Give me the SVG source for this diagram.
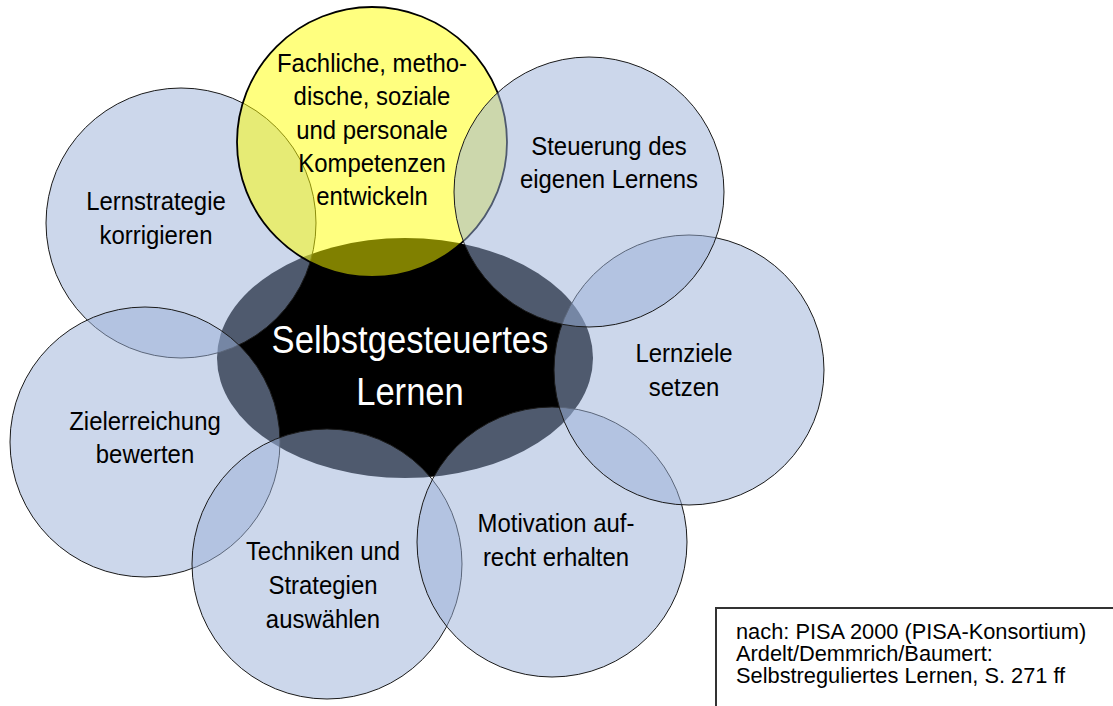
<svg xmlns="http://www.w3.org/2000/svg" width="1113" height="706" viewBox="0 0 1113 706">
<style>
.c{fill:#9BB0D8;fill-opacity:0.51;stroke:#1a1a1a;stroke-width:1}
.y{fill:#FFFF00;fill-opacity:0.5;stroke:#000;stroke-width:1.8}
.t{font-family:"Liberation Sans",Arial,sans-serif;font-size:26px;fill:#000;text-anchor:middle}
.m{font-family:"Liberation Sans",Arial,sans-serif;font-size:38px;fill:#fff;text-anchor:middle}
.r{font-family:"Liberation Sans",Arial,sans-serif;font-size:21.8px;fill:#000}
</style>
<rect width="1113" height="706" fill="#fff"/>
<g id="center">
<ellipse cx="405" cy="358" rx="188" ry="120" fill="#000"/>
<text class="m" transform="translate(410 0) scale(0.91 1)"><tspan x="0" y="353">Selbstgesteuertes</tspan><tspan x="0" y="405">Lernen</tspan></text>
</g>
<g id="lernstrategie">
<circle class="c" cx="181" cy="223" r="135"/>
<text class="t" transform="translate(156 0) scale(0.92 1)"><tspan x="0" y="210">Lernstrategie</tspan><tspan x="0" y="244">korrigieren</tspan></text>
</g>
<g id="zielerreichung">
<circle class="c" cx="145" cy="442" r="135"/>
<text class="t" transform="translate(145 0) scale(0.92 1)"><tspan x="0" y="430">Zielerreichung</tspan><tspan x="0" y="463">bewerten</tspan></text>
</g>
<g id="techniken">
<circle class="c" cx="327" cy="564" r="135"/>
<text class="t" transform="translate(323 0) scale(0.92 1)"><tspan x="0" y="560">Techniken und</tspan><tspan x="0" y="594">Strategien</tspan><tspan x="0" y="628">auswählen</tspan></text>
</g>
<g id="motivation">
<circle class="c" cx="552" cy="542" r="135"/>
<text class="t" transform="translate(556 0) scale(0.92 1)"><tspan x="0" y="532">Motivation auf-</tspan><tspan x="0" y="566">recht erhalten</tspan></text>
</g>
<g id="lernziele">
<circle class="c" cx="689" cy="370" r="135"/>
<text class="t" transform="translate(684 0) scale(0.92 1)"><tspan x="0" y="362">Lernziele</tspan><tspan x="0" y="396">setzen</tspan></text>
</g>
<g id="kompetenzen">
<circle class="y" cx="372" cy="142" r="135"/>
<text class="t" transform="translate(372 0) scale(0.92 1)"><tspan x="0" y="72">Fachliche, metho-</tspan><tspan x="0" y="105.5">dische, soziale</tspan><tspan x="0" y="139">und personale</tspan><tspan x="0" y="172">Kompetenzen</tspan><tspan x="0" y="205.5">entwickeln</tspan></text>
</g>
<g id="steuerung">
<circle class="c" cx="589" cy="192" r="135"/>
<text class="t" transform="translate(609 0) scale(0.92 1)"><tspan x="0" y="155">Steuerung des</tspan><tspan x="0" y="188">eigenen Lernens</tspan></text>
</g>
<g id="connectors"></g>
<g id="quelle">
<rect x="716" y="608" width="420" height="130" fill="#fff" stroke="#333" stroke-width="2"/>
<text class="r"><tspan x="736" y="639">nach: PISA 2000 (PISA-Konsortium)</tspan><tspan x="736" y="661">Ardelt/Demmrich/Baumert:</tspan><tspan x="736" y="683">Selbstreguliertes Lernen, S. 271 ff</tspan></text>
</g>
</svg>
